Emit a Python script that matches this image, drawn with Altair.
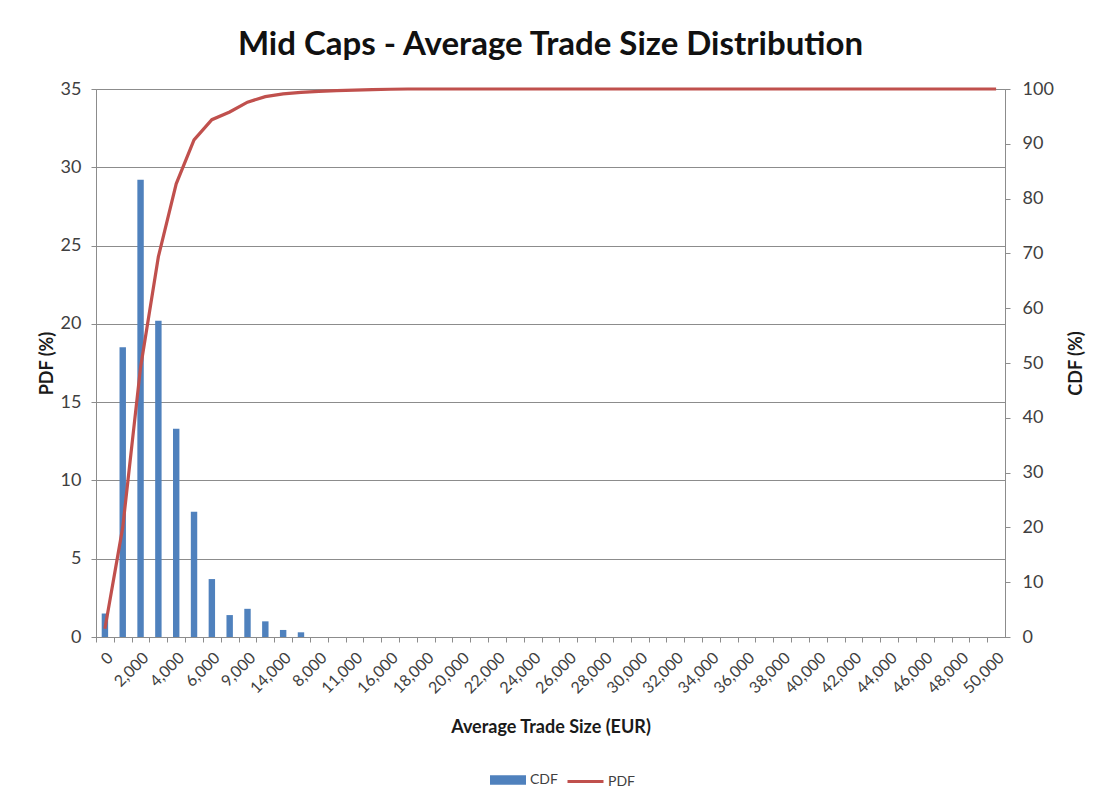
import altair as alt
import pandas as pd

shown = ["0", "2,000", "4,000", "6,000", "9,000", "14,000", "8,000", "11,000"] + \
        [f"{v:,}" for v in range(16000, 50001, 2000)]
hidden = ["1,000", "3,000", "5,000", "7,000", "10,000", "13,000", "12,000", "15,000"] + \
         [f"{v:,}" for v in range(17000, 50000, 2000)]
categories = []
for i in range(len(shown)):
    categories.append(shown[i])
    if i < len(hidden):
        categories.append(hidden[i])

pdf_values = [1.5, 18.5, 29.2, 20.2, 13.3, 8.0, 3.7, 1.4, 1.8, 1.0, 0.45, 0.3] + [0.0] * 39
cdf_values = [1.5, 20.0, 49.2, 69.4, 82.7, 90.7, 94.4, 95.8, 97.6, 98.6, 99.1, 99.4,
              99.55, 99.7, 99.8, 99.9, 99.95] + [100.0] * 34

df = pd.DataFrame({"cat": categories, "pdf": pdf_values, "cdf": cdf_values,
                   "bar_name": "CDF", "line_name": "PDF"})

FONT = "Lato"
LABEL_COLOR = "#404040"
TITLE_COLOR = "#1a1a1a"
GRID = "#8c8c8c"
W, H = 909, 548
step = W / len(categories)

shown_js = "[" + ",".join(f"'{s}'" for s in shown) + "]"

x = alt.X("cat:N", sort=None,
          scale=alt.Scale(paddingInner=0.64, paddingOuter=0.32),
          axis=alt.Axis(title="Average Trade Size (EUR)", labelAngle=315,
                        labelAlign="right", labelBaseline="middle",
                        labelExpr=f"indexof({shown_js}, datum.value) >= 0 ? datum.label : ''",
                        labelOverlap=False, tickOffset=-step / 2, labelOffset=step / 2 + 5,
                        tickSize=5, labelPadding=13, labelFontSize=16, titleFontSize=18,
                        titleFontWeight="bold", titlePadding=22, domainColor=GRID,
                        tickColor=GRID, labelColor=LABEL_COLOR, titleColor=TITLE_COLOR,
                        grid=False))

bars = alt.Chart(df).mark_bar(color="#4F81BD").encode(
    x=x,
    y=alt.Y("pdf:Q", scale=alt.Scale(domain=[0, 35]),
            axis=alt.Axis(title="PDF (%)", values=list(range(0, 36, 5)), grid=True,
                          gridColor=GRID, tickSize=5, tickColor=GRID, domainColor=GRID,
                          labelFontSize=18, labelColor=LABEL_COLOR, labelPadding=10,
                          titleFontSize=18, titleFontWeight="bold", titleColor=TITLE_COLOR,
                          titlePadding=4)),
    fill=alt.Fill("bar_name:N", scale=alt.Scale(domain=["CDF"], range=["#4F81BD"]),
                  legend=alt.Legend(title=None, orient="none", legendX=394, legendY=673,
                                    symbolType="M-1,-0.27L1,-0.27L1,0.27L-1,0.27Z",
                                    symbolSize=1296, symbolStrokeWidth=0, labelOffset=4,
                                    labelFontSize=14, labelColor=LABEL_COLOR, labelFont=FONT)),
)

line = alt.Chart(df).mark_line(color="#C0504D", strokeWidth=3.2).encode(
    x=x,
    y=alt.Y("cdf:Q", scale=alt.Scale(domain=[0, 100]),
            axis=alt.Axis(title="CDF (%)", orient="right", values=list(range(0, 101, 10)),
                          grid=False, tickSize=5, tickColor=GRID, domainColor=GRID,
                          labelFontSize=18, labelColor=LABEL_COLOR, labelPadding=12,
                          titleFontSize=18, titleFontWeight="bold", titleColor=TITLE_COLOR,
                          titleAngle=270, titleBaseline="top", titlePadding=14)),
    stroke=alt.Stroke("line_name:N", scale=alt.Scale(domain=["PDF"], range=["#C0504D"]),
                      legend=alt.Legend(title=None, orient="none", legendX=470, legendY=673,
                                        symbolType="stroke", symbolSize=1296,
                                        symbolStrokeWidth=3, labelOffset=3,
                                        labelFontSize=14, labelColor=LABEL_COLOR,
                                        labelFont=FONT)),
)

chart = alt.layer(bars, line).resolve_scale(y="independent", fill="independent",
                                            stroke="independent").properties(
    width=W, height=H,
    autosize=alt.AutoSizeParams(type="none"),
    padding={"left": 88, "top": 81, "right": 86, "bottom": 165},
    title=alt.Title("Mid Caps - Average Trade Size Distribution", fontSize=33,
                    font=FONT, fontWeight="bold", color="#111111", offset=18),
).configure(font=FONT).configure_view(stroke=GRID, strokeWidth=1).configure_axis(
    labelFont=FONT, titleFont=FONT)

chart.save("out.html", embed_options={"renderer": "svg", "actions": False})
